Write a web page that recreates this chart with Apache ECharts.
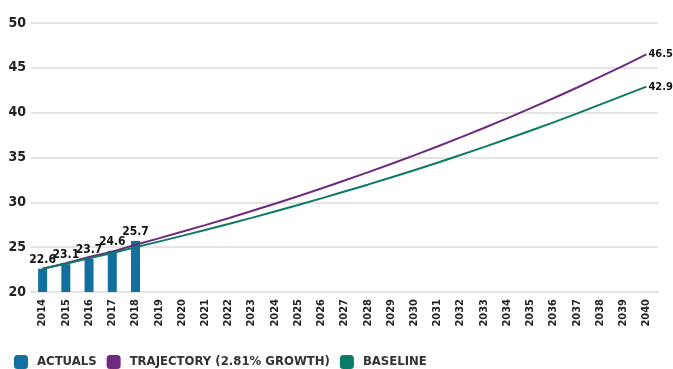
<!DOCTYPE html>
<html>
<head>
<meta charset="utf-8">
<script src="https://cdn.jsdelivr.net/npm/echarts@6/dist/echarts.min.js"></script>
<style>
	html, body { margin: 0; padding: 0; background: #fff; }
	#chart { width: 673px; height: 369px; }
</style>
</head>
<body>
<div id="chart"></div>
<script>
var years = ['2014', '2015', '2016', '2017', '2018', '2019', '2020', '2021', '2022', '2023', '2024', '2025', '2026',
	'2027', '2028', '2029', '2030', '2031', '2032', '2033', '2034', '2035', '2036', '2037', '2038', '2039', '2040'];

var actuals = [22.6, 23.1, 23.7, 24.6, 25.7];

var trajectory = [22.6, 23.2, 23.9, 24.5, 25.27, 25.98, 26.71, 27.46, 28.23, 29.03, 29.84, 30.68, 31.54,
	32.43, 33.34, 34.28, 35.24, 36.23, 37.25, 38.29, 39.37, 40.48, 41.61, 42.78, 43.99, 45.22, 46.5];

var baseline = [22.6, 23.15, 23.75, 24.35, 25.0, 25.62, 26.26, 26.91, 27.58, 28.27, 28.98, 29.7, 30.44,
	31.2, 31.97, 32.77, 33.58, 34.42, 35.28, 36.16, 37.06, 37.98, 38.92, 39.89, 40.89, 41.9, 42.9];

var font = '"DejaVu Sans Condensed", "Liberation Sans Narrow", sans-serif';

var option = {
	animation : false,
	textStyle : { fontFamily : font },
	grid : {
		left : 31,
		right : 15,
		top : 23,
		bottom : 77
	},
	legend : {
		left : 9,
		top : 350,
		itemWidth : 14,
		itemHeight : 14,
		itemGap : 10,
		icon : 'roundRect',
		textStyle : {
			fontFamily : font,
			fontWeight : 'bold',
			fontSize : 13,
			color : '#333',
			padding : [0, 0, 0, 4]
		},
		data : ['ACTUALS', 'TRAJECTORY (2.81% GROWTH)', 'BASELINE']
	},
	xAxis : {
		type : 'category',
		data : years,
		axisTick : { show : false },
		axisLine : { lineStyle : { color : '#e4e4e4', width : 2 } },
		axisLabel : {
			rotate : 90,
			interval : 0,
			fontFamily : font,
			fontWeight : 'bold',
			fontSize : 11,
			color : '#222',
			margin : 7
		}
	},
	yAxis : {
		type : 'value',
		min : 20,
		max : 50,
		interval : 5,
		axisLine : { show : false },
		axisTick : { show : false },
		splitLine : { lineStyle : { color : '#e4e4e4', width : 2 } },
		axisLabel : {
			fontFamily : font,
			fontWeight : 'bold',
			fontSize : 14,
			color : '#222',
			margin : 5
		}
	},
	series : [ {
		name : 'ACTUALS',
		type : 'bar',
		data : actuals,
		barWidth : 9,
		itemStyle : { color : '#12709f' },
		label : {
			show : true,
			position : 'top',
			distance : 3,
			fontFamily : font,
			fontWeight : 'bold',
			fontSize : 12,
			color : '#111'
		}
	}, {
		name : 'TRAJECTORY (2.81% GROWTH)',
		type : 'line',
		data : trajectory,
		symbol : 'none',
		lineStyle : { color : '#6d2a80', width : 2 },
		itemStyle : { color : '#6d2a80' },
		endLabel : {
			show : true,
			distance : 2,
			fontFamily : font,
			fontWeight : 'bold',
			fontSize : 11,
			color : '#111'
		}
	}, {
		name : 'BASELINE',
		type : 'line',
		data : baseline,
		symbol : 'none',
		lineStyle : { color : '#0a7b66', width : 2 },
		itemStyle : { color : '#0a7b66' },
		endLabel : {
			show : true,
			distance : 2,
			fontFamily : font,
			fontWeight : 'bold',
			fontSize : 11,
			color : '#111'
		}
	} ]
};

var myChart = echarts.init(document.getElementById('chart'));
myChart.setOption(option);
</script>
</body>
</html>
